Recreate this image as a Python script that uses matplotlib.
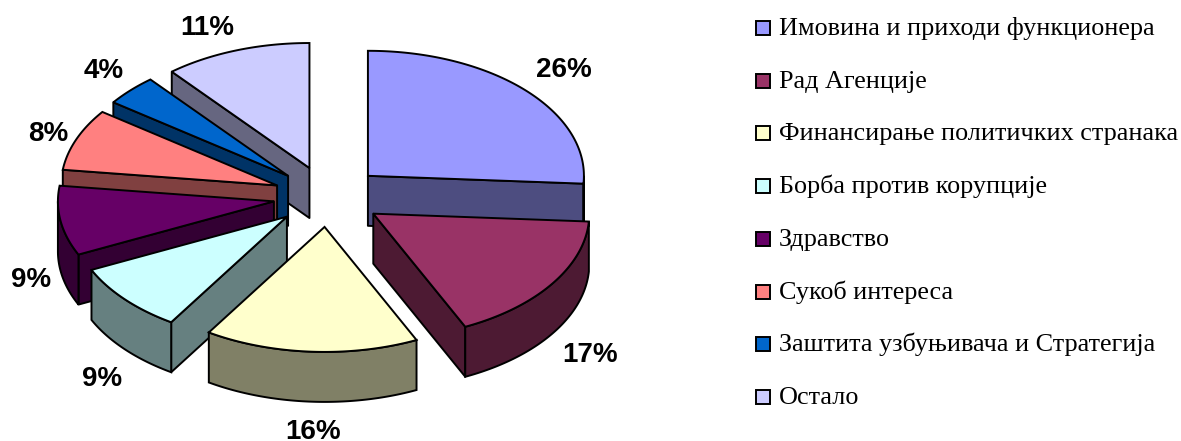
# -*- coding: utf-8 -*-
import numpy as np
import matplotlib
matplotlib.use('Agg')
import matplotlib.pyplot as plt
from matplotlib.patches import Polygon, Rectangle

names = ['Имовина и приходи функционера', 'Рад Агенције', 'Финансирање политичких странака',
         'Борба против корупције', 'Здравство', 'Сукоб интереса',
         'Заштита узбуњивача и Стратегија', 'Остало']
values = [26, 17, 16, 9, 9, 8, 4, 11]
top_colors = ['#9999FF', '#993366', '#FFFFCC', '#CCFFFF', '#660066', '#FF8080', '#0066CC', '#CCCCFF']
side_colors = ['#4D4D80', '#4D1A33', '#808066', '#668080', '#330033', '#804040', '#003366', '#666680']
label_x = [564, 590, 313, 102, 31, 48, 104, 207]
label_base = [77, 362, 439, 386, 287, 141, 78, 35]

# pie geometry in pixels
cx, cy = 328, 196.6
rx, ry = 216, 125
depth = 50
explode_x, explode_y = 0.2535, 0.243

fig = plt.figure(figsize=(11.81, 4.41), dpi=100)
ax = fig.add_axes([0, 0, 1, 1])
ax.set_xlim(0, 1181)
ax.set_ylim(441, 0)
ax.axis('off')


def rim(ox, oy, a, b):
    t = np.radians(np.linspace(a, b, max(int(b - a) * 2, 2)))
    return np.column_stack([ox + rx * np.sin(t), oy - ry * np.cos(t)])


def side(p, q, color, z):
    pts = [p, q, q + [0, depth], p + [0, depth]]
    ax.add_patch(Polygon(pts, fc=color, ec='black', lw=1.4, zorder=z, joinstyle='round'))


edges = np.cumsum([0] + values) * 3.6
mids = (edges[:-1] + edges[1:]) / 2
apex_x = cx + explode_x * rx * np.sin(np.radians(mids))
apex_y = cy - explode_y * ry * np.cos(np.radians(mids))

# back slices first
order = np.argsort(apex_y)
for z, i in enumerate(order):
    a, b = edges[i], edges[i + 1]
    apex = np.array([apex_x[i], apex_y[i]])
    arc = rim(apex[0], apex[1], a, b)
    zz = z * 10 + 2
    # only faces turned to the viewer
    if arc[0][0] < apex[0] - 0.5:
        side(apex, arc[0], side_colors[i], zz)
    if arc[-1][0] > apex[0] + 0.5:
        side(arc[-1], apex, side_colors[i], zz)
    lo, hi = max(a, 90), min(b, 270)
    if hi > lo:
        low = rim(apex[0], apex[1], lo, hi)
        pts = np.vstack([low, low[::-1] + [0, depth]])
        ax.add_patch(Polygon(pts, fc=side_colors[i], ec='black', lw=1.4, zorder=zz))
    ax.add_patch(Polygon(np.vstack([apex, arc]), fc=top_colors[i], ec='black', lw=1.4, zorder=zz + 1))

for v, x, y in zip(values, label_x, label_base):
    ax.text(x, y, '%d%%' % v, family='Liberation Sans', weight='bold', fontsize=20,
            ha='center', va='baseline', color='black', zorder=200)

# legend
for i, name in enumerate(names):
    y = 28 + i * 52.7
    ax.add_patch(Rectangle((756, y - 7), 14, 14, fc=top_colors[i], ec='black', lw=1.4))
    ax.text(779, y + 7, name, family='Liberation Serif', fontsize=18.8, va='baseline', ha='left', color='black')

plt.savefig('out.png', dpi=100)
